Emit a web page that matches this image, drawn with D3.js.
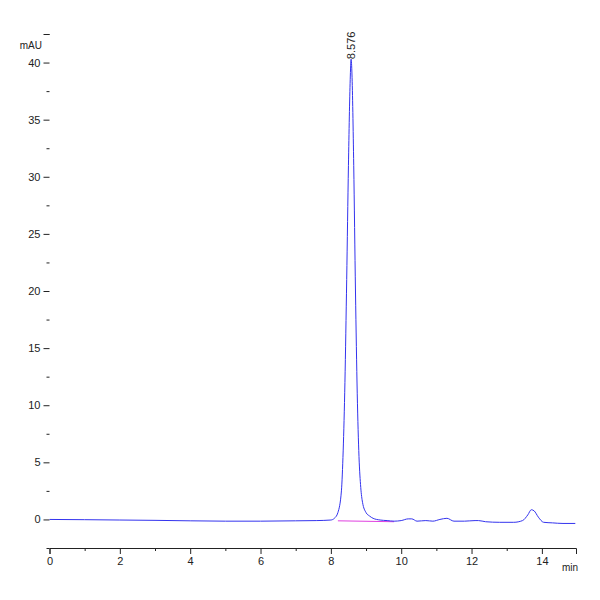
<!DOCTYPE html>
<html><head><meta charset="utf-8">
<script src="https://cdn.jsdelivr.net/npm/d3@7"></script>
<style>body{margin:0;background:#fff}text{font-family:"Liberation Sans",Arial,sans-serif}</style>
</head><body><div id="chart"></div>
<script>
// chromatogram points (min, mAU)
var times = [0,1,2,3,4,5,6,7,7.6,8.0,8.1,8.2,8.3,8.35,8.4,8.45,8.5,8.55,8.576,8.6,8.65,8.7,8.75,8.8,8.85,8.9,9.0,9.1,9.2,9.4,9.6,9.8,10.0,10.2,10.3,10.45,10.7,10.9,11.1,11.3,11.5,11.8,12.1,12.2,12.4,12.8,13.2,13.45,13.6,13.7,13.78,13.9,14.05,14.3,14.6,14.95];
var signal = [0,-0.02,-0.05,-0.08,-0.12,-0.15,-0.15,-0.12,-0.1,-0.05,0.1,0.6,2.5,6,12,21,31,38.5,40.3,39,31,20,11,5.5,2.8,1.5,0.6,0.3,0.1,-0.05,-0.1,-0.15,-0.1,0.05,0.05,-0.15,-0.1,-0.15,0,0.1,-0.15,-0.15,-0.1,-0.1,-0.2,-0.25,-0.25,-0.1,0.4,0.85,0.75,0.2,-0.25,-0.3,-0.35,-0.35];
var xTicks = [0,2,4,6,8,10,12,14];
var yTicks = [0,5,10,15,20,25,30,35,40];
var peakLabel = {t: 8.576, text: "8.576"};
var baseline = [[8.2,-0.12],[9.8,-0.2]];

var W = 600, H = 600;
var svg = d3.select("#chart").append("svg").attr("width", W).attr("height", H);
var x = d3.scaleLinear().domain([0, 14.97]).range([49.5, 576]);
var y = d3.scaleLinear().domain([-2.5, 42.5]).range([548, 34]);

// x axis
var xa = svg.append("g").attr("transform", "translate(0," + y(-2.5) + ")")
  .call(d3.axisBottom(x).tickValues(xTicks).tickSize(6).tickFormat(d3.format("d")));
xa.append("g").call(d3.axisBottom(x).tickValues(d3.range(1, 15, 2)).tickSize(3).tickFormat(""));
// y axis
var ya = svg.append("g").attr("transform", "translate(49.5,0)")
  .call(d3.axisLeft(y).tickValues(yTicks).tickSize(6));
ya.append("g").call(d3.axisLeft(y).tickValues(d3.range(-2.5, 42.6, 5)).tickSize(3).tickFormat(""));
ya.append("g").call(d3.axisLeft(y).tickValues([42.5]).tickSize(6).tickFormat(""));
svg.selectAll(".domain").attr("stroke", "#222");
svg.selectAll(".tick line").attr("stroke", "#222");
svg.selectAll(".tick text").attr("font-size", 11).attr("fill", "#222");
xa.selectAll(".domain").filter(function(d, i){return i > 0;}).remove();
ya.selectAll("g .domain").remove();

svg.append("text").attr("x", 42).attr("y", y(41.5)+4).attr("text-anchor", "end")
  .attr("font-size", 10).attr("fill", "#222").text("mAU");
svg.append("text").attr("x", 562).attr("y", 571).attr("text-anchor", "start")
  .attr("font-size", 10).attr("fill", "#222").text("min");

// integration baseline
svg.append("path").attr("d", d3.line().x(function(d){return x(d[0]);}).y(function(d){return y(d[1]);})(baseline))
  .attr("stroke", "#e040e0").attr("stroke-width", 1).attr("fill", "none");

// trace
var pts = times.map(function(t, i){ return [t, signal[i]]; });
svg.append("path")
  .attr("d", d3.line().x(function(d){return x(d[0]);}).y(function(d){return y(d[1]);}).curve(d3.curveMonotoneX)(pts))
  .attr("stroke", "#3333ee").attr("stroke-width", 1).attr("fill", "none");

// peak label
svg.append("text").attr("transform", "translate(" + (x(peakLabel.t)+4) + "," + (y(40.3)) + ") rotate(-90)")
  .attr("font-size", 11).attr("fill", "#222").text(peakLabel.text);
</script></body></html>
